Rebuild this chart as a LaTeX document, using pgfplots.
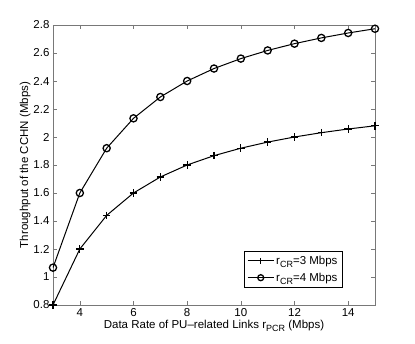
\documentclass[border=0pt]{standalone}
\usepackage{fontspec}
\setmainfont{Liberation Sans}
\usepackage{pgfplots}
\pgfplotsset{compat=1.18}
\definecolor{axgray}{RGB}{120,120,120}
\newcommand{\sub}[1]{\raisebox{-0.5ex}{\fontsize{9}{9}\selectfont #1}}
\begin{document}
\begin{tikzpicture}
\useasboundingbox (-53pt,-39pt) rectangle (362pt,305pt);
\begin{axis}[
    at={(0,0)}, anchor=south west,
    scale only axis,
    width=322pt, height=280pt,
    xmin=3, xmax=15, ymin=0.8, ymax=2.8,
    xtick={4,6,...,14},
    ytick={0.8,1,1.2,...,2.8},
    yticklabels={0.8,1,1.2,1.4,1.6,1.8,2,2.2,2.4,2.6,2.8},
    tick align=inside,
    major tick length=4pt,
    axis line style={axgray, line width=0.8pt},
    every tick/.style={axgray, line width=0.6pt},
    tick label style={font=\fontsize{11.5}{13}\selectfont, black},
    /pgf/number format/assume math mode=true,
    label style={font=\fontsize{11.5}{13}\selectfont},
    xlabel={Data Rate of PU--related Links r\sub{PCR} (Mbps)},
    ylabel={Throughput of the CCHN (Mbps)},
    xlabel style={yshift=3pt},
    ylabel style={yshift=-4pt},
    legend style={at={(rel axis cs:0.90,0.061)}, anchor=south east,
        font=\fontsize{11.5}{13}\selectfont, draw=black, line width=0.6pt,
        row sep=3pt, inner sep=3pt},
    legend cell align=left,
    legend image code/.code={
        \draw[mark repeat=2,mark phase=2,#1,line width=1pt, mark size=3pt]
        plot coordinates {(0pt,0pt) (13pt,0pt) (26pt,0pt)};},
    ]
\addplot[black, line width=1pt, mark=+, mark size=3.8pt, mark options={line width=1.2pt}] coordinates {
(3,0.8) (4,1.2) (5,1.44) (6,1.6) (7,1.7143) (8,1.8) (9,1.8667)
(10,1.92) (11,1.9636) (12,2.0) (13,2.0308) (14,2.0571) (15,2.08)};
\addplot[black, line width=1pt, mark=o, mark size=3.6pt, mark options={line width=1.3pt}] coordinates {
(3,1.0667) (4,1.6) (5,1.92) (6,2.1333) (7,2.2857) (8,2.4) (9,2.4889)
(10,2.56) (11,2.6182) (12,2.6667) (13,2.7077) (14,2.7429) (15,2.7733)};
\legend{r\sub{CR}=3 Mbps, r\sub{CR}=4 Mbps}
\end{axis}
\end{tikzpicture}
\end{document}
